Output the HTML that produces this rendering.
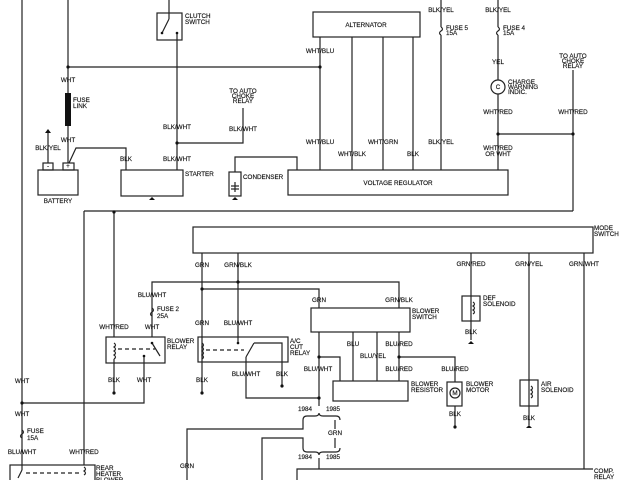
<!DOCTYPE html>
<html><head><meta charset="utf-8"><style>
html,body{margin:0;padding:0;background:#fff;}
svg{display:block;}
text{font-family:"Liberation Sans",sans-serif;font-size:6.3px;fill:#111;stroke:#111;stroke-width:0.15px;}
.c{text-anchor:middle;}
</style></head><body>
<svg width="640" height="480" viewBox="0 0 640 480" xmlns="http://www.w3.org/2000/svg">
<g stroke="#222" stroke-width="1.2" fill="none">
<line x1="22" y1="0" x2="22" y2="470"/>
<line x1="68" y1="0" x2="68" y2="163"/>
<line x1="68" y1="67" x2="320" y2="67"/>
<rect x="38" y="170" width="40" height="25"/>
<rect x="43" y="163" width="10" height="7"/>
<rect x="63" y="163" width="11" height="7"/>
<line x1="48" y1="132" x2="48" y2="163"/>
<polyline points="69,163 76,148 126,148 126,170"/>
<rect x="121" y="170" width="62" height="26"/>
<rect x="157" y="13" width="25" height="27"/>
<line x1="169" y1="0" x2="169" y2="19"/>
<line x1="169" y1="19" x2="162" y2="33"/>
<line x1="177" y1="33" x2="177" y2="170"/>
<polyline points="177,143 243,143 243,108"/>
<rect x="229" y="172" width="12" height="24"/>
<polyline points="235,172 235,157 297,157 297,170"/>
<line x1="235" y1="182" x2="235" y2="192"/>
<line x1="231" y1="186" x2="239" y2="186"/>
<line x1="231" y1="189" x2="239" y2="189"/>
<rect x="313" y="12" width="107" height="25"/>
<rect x="288" y="170" width="220" height="25"/>
<line x1="320" y1="37" x2="320" y2="170"/>
<line x1="352" y1="37" x2="352" y2="170"/>
<line x1="383" y1="37" x2="383" y2="170"/>
<line x1="413" y1="37" x2="413" y2="170"/>
<line x1="441" y1="0" x2="441" y2="27"/>
<line x1="441" y1="35" x2="441" y2="170"/>
<path d="M441,27 q3,2 0,4 q-3,2 0,4"/>
<line x1="498" y1="0" x2="498" y2="27"/>
<line x1="498" y1="35" x2="498" y2="80"/>
<path d="M498,27 q3,2 0,4 q-3,2 0,4"/>
<circle cx="498" cy="87" r="7"/>
<line x1="498" y1="94" x2="498" y2="170"/>
<line x1="498" y1="134" x2="573" y2="134"/>
<line x1="573" y1="70" x2="573" y2="211"/>
<line x1="84" y1="211" x2="573" y2="211"/>
<line x1="84" y1="211" x2="84" y2="465"/>
<line x1="114" y1="211" x2="114" y2="337"/>
<rect x="193" y="227" width="400" height="26"/>
<line x1="202" y1="253" x2="202" y2="393"/>
<line x1="238" y1="253" x2="238" y2="343"/>
<line x1="471" y1="253" x2="471" y2="340"/>
<line x1="529" y1="253" x2="529" y2="425"/>
<line x1="584" y1="253" x2="584" y2="469"/>
<polyline points="152,337 152,282 399,282 399,308"/>
<polyline points="202,289 319,289 319,308"/>
<rect x="106" y="337" width="59" height="26"/>
<path d="M114,343 q3,2 0,4 q3,2 0,4 q3,2 0,4 q3,2 0,4"/>
<line x1="118" y1="349" x2="155" y2="349" stroke-dasharray="4,3"/>
<line x1="152" y1="343" x2="160" y2="356"/>
<line x1="114" y1="359" x2="114" y2="393"/>
<polyline points="144,356 144,403 22,403"/>
<path d="M152,308 q3,2 0,4 q-3,2 0,4"/>
<rect x="198" y="337" width="90" height="25"/>
<path d="M202,343 q3,2 0,4 q3,2 0,4 q3,2 0,4 q3,2 0,4"/>
<line x1="206" y1="350" x2="244" y2="350" stroke-dasharray="4,3"/>
<line x1="246" y1="357" x2="254" y2="343"/>
<polyline points="254,343 282,343 282,386"/>
<polyline points="246,357 246,398 319,398"/>
<rect x="311" y="308" width="99" height="24"/>
<line x1="319" y1="332" x2="319" y2="406"/>
<polyline points="319,357 340,357 340,381"/>
<line x1="353" y1="332" x2="353" y2="381"/>
<line x1="377" y1="332" x2="377" y2="381"/>
<line x1="399" y1="332" x2="399" y2="381"/>
<polyline points="399,357 455,357 455,382"/>
<rect x="333" y="381" width="75" height="20"/>
<rect x="447" y="382" width="15" height="24"/>
<circle cx="455" cy="393" r="5"/>
<line x1="455" y1="406" x2="455" y2="427"/>
<rect x="462" y="296" width="18" height="25"/>
<path d="M473,302 q3,2 0,4 q3,2 0,4 q3,2 0,4"/>
<rect x="520" y="380" width="18" height="26"/>
<path d="M531,386 q3,2 0,4 q3,2 0,4 q3,2 0,4"/>
<path d="M303,420 q0,-4 4,-4 h8 q4,0 4,-3 q0,3 4,3 h13 q4,0 4,4"/>
<path d="M303,448 q0,4 4,4 h8 q4,0 4,3 q0,-3 4,-3 h13 q4,0 4,-4"/>
<polyline points="303,420 303,429 187,429 187,480"/>
<polyline points="303,448 303,438 262,438 262,480"/>
<line x1="335" y1="420" x2="335" y2="429"/>
<line x1="335" y1="438" x2="335" y2="448"/>
<line x1="319" y1="458" x2="319" y2="469"/>
<polyline points="297,480 297,469 593,469"/>
<path d="M22,430 q3,2 0,4 q-3,2 0,4"/>
<rect x="10" y="465" width="85" height="20"/>
<line x1="22" y1="470" x2="18" y2="478"/>
<line x1="26" y1="473" x2="80" y2="473" stroke-dasharray="4,3"/>
<path d="M84,467 q3,2 0,4 q3,2 0,4"/>
</g>
<rect x="65" y="93" width="6" height="33" fill="#111"/>
<g fill="#111">
<circle cx="68" cy="67" r="1.6"/><circle cx="320" cy="67" r="1.6"/>
<circle cx="177" cy="143" r="1.6"/><circle cx="498" cy="134" r="1.6"/>
<circle cx="573" cy="134" r="1.6"/><circle cx="114" cy="212" r="1.6"/>
<circle cx="238" cy="282" r="1.6"/><circle cx="202" cy="289" r="1.6"/>
<circle cx="22" cy="403" r="1.6"/><circle cx="114" cy="393" r="1.6"/>
<circle cx="202" cy="393" r="1.6"/><circle cx="282" cy="386" r="1.6"/>
<circle cx="319" cy="357" r="1.6"/><circle cx="319" cy="398" r="1.6"/>
<circle cx="399" cy="357" r="1.6"/><circle cx="455" cy="427" r="1.6"/>
<circle cx="238" cy="343" r="1.3"/><circle cx="144" cy="356" r="1.3"/>
<circle cx="152" cy="343" r="1.3"/><circle cx="162" cy="33" r="1.3"/>
<circle cx="177" cy="33" r="1.3"/>
<path d="M48,129 l-3,4 h6 z"/><path d="M152,197 l-3,3 h6z"/><path d="M235,197 l-3,3 h6z"/>
<path d="M471,341 l-3,3 h6z"/><path d="M529,425 l-3,3 h6z"/>
</g>
<text x="185" y="18">CLUTCH</text><text x="185" y="24">SWITCH</text>
<text class="c" x="68" y="82">WHT</text>
<text x="73" y="102">FUSE</text><text x="73" y="108">LINK</text>
<text class="c" x="68" y="142">WHT</text>
<text class="c" x="48" y="150">BLK/YEL</text>
<text class="c" x="48" y="168" font-size="5">-</text><text class="c" x="68" y="168" font-size="5">+</text>
<text class="c" x="58" y="203">BATTERY</text>
<text class="c" x="126" y="161">BLK</text>
<text class="c" x="177" y="129">BLK/WHT</text>
<text class="c" x="177" y="161">BLK/WHT</text>
<text x="185" y="176">STARTER</text>
<text class="c" x="243" y="93">TO AUTO</text><text class="c" x="243" y="98">CHOKE</text><text class="c" x="243" y="103">RELAY</text>
<text class="c" x="243" y="131">BLK/WHT</text>
<text x="243" y="179">CONDENSER</text>
<text class="c" x="366" y="27">ALTERNATOR</text>
<text class="c" x="320" y="53">WHT/BLU</text>
<text class="c" x="320" y="144">WHT/BLU</text>
<text class="c" x="352" y="156">WHT/BLK</text>
<text class="c" x="383" y="144">WHT/GRN</text>
<text class="c" x="413" y="156">BLK</text>
<text class="c" x="441" y="12">BLK/YEL</text>
<text x="446" y="30">FUSE 5</text><text x="446" y="35">15A</text>
<text class="c" x="441" y="144">BLK/YEL</text>
<text class="c" x="498" y="12">BLK/YEL</text>
<text x="503" y="30">FUSE 4</text><text x="503" y="35">15A</text>
<text class="c" x="498" y="64">YEL</text>
<text class="c" x="498" y="89" font-size="5">C</text>
<text x="508" y="84">CHARGE</text><text x="508" y="89">WARNING</text><text x="508" y="94">INDIC.</text>
<text class="c" x="498" y="114">WHT/RED</text>
<text class="c" x="498" y="150">WHT/RED</text><text class="c" x="498" y="156">OR WHT</text>
<text class="c" x="573" y="58">TO AUTO</text><text class="c" x="573" y="63">CHOKE</text><text class="c" x="573" y="68">RELAY</text>
<text class="c" x="573" y="114">WHT/RED</text>
<text class="c" x="398" y="185">VOLTAGE REGULATOR</text>
<text x="594" y="230">MODE</text><text x="594" y="236">SWITCH</text>
<text class="c" x="202" y="267">GRN</text><text class="c" x="238" y="267">GRN/BLK</text>
<text class="c" x="471" y="266">GRN/RED</text><text class="c" x="529" y="266">GRN/YEL</text><text class="c" x="584" y="266">GRN/WHT</text>
<text class="c" x="152" y="297">BLU/WHT</text>
<text x="157" y="311">FUSE 2</text><text x="157" y="318">25A</text>
<text class="c" x="114" y="329">WHT/RED</text><text class="c" x="152" y="329">WHT</text>
<text x="167" y="343">BLOWER</text><text x="167" y="349">RELAY</text>
<text class="c" x="202" y="325">GRN</text><text class="c" x="238" y="325">BLU/WHT</text>
<text x="290" y="343">A/C</text><text x="290" y="349">CUT</text><text x="290" y="355">RELAY</text>
<text class="c" x="319" y="302">GRN</text><text class="c" x="399" y="302">GRN/BLK</text>
<text x="412" y="313">BLOWER</text><text x="412" y="319">SWITCH</text>
<text class="c" x="353" y="346">BLU</text><text class="c" x="373" y="358">BLU/YEL</text>
<text class="c" x="399" y="346">BLU/RED</text>
<text class="c" x="318" y="371">BLU/WHT</text><text class="c" x="399" y="371">BLU/RED</text><text class="c" x="455" y="371">BLU/RED</text>
<text x="411" y="386">BLOWER</text><text x="411" y="392">RESISTOR</text>
<text class="c" x="455" y="395" font-size="5">M</text>
<text x="466" y="386">BLOWER</text><text x="466" y="392">MOTOR</text>
<text class="c" x="455" y="416">BLK</text>
<text x="483" y="300">DEF</text><text x="483" y="306">SOLENOID</text>
<text class="c" x="471" y="334">BLK</text>
<text x="541" y="386">AIR</text><text x="541" y="392">SOLENOID</text>
<text class="c" x="529" y="420">BLK</text>
<text class="c" x="114" y="382">BLK</text><text class="c" x="144" y="382">WHT</text>
<text class="c" x="202" y="382">BLK</text><text class="c" x="246" y="376">BLU/WHT</text><text class="c" x="282" y="376">BLK</text>
<text class="c" x="22" y="383">WHT</text><text class="c" x="22" y="416">WHT</text>
<text x="27" y="433">FUSE</text><text x="27" y="440">15A</text>
<text class="c" x="22" y="454">BLU/WHT</text><text class="c" x="84" y="454">WHT/RED</text>
<text x="96" y="470">REAR</text><text x="96" y="476">HEATER</text><text x="96" y="482">BLOWER</text>
<text class="c" x="305" y="411">1984</text><text class="c" x="333" y="411">1985</text>
<text class="c" x="335" y="435">GRN</text>
<text class="c" x="305" y="459">1984</text><text class="c" x="333" y="459">1985</text>
<text class="c" x="187" y="468">GRN</text>
<text x="594" y="473">COMP.</text><text x="594" y="479">RELAY</text>
</svg>
</body></html>
